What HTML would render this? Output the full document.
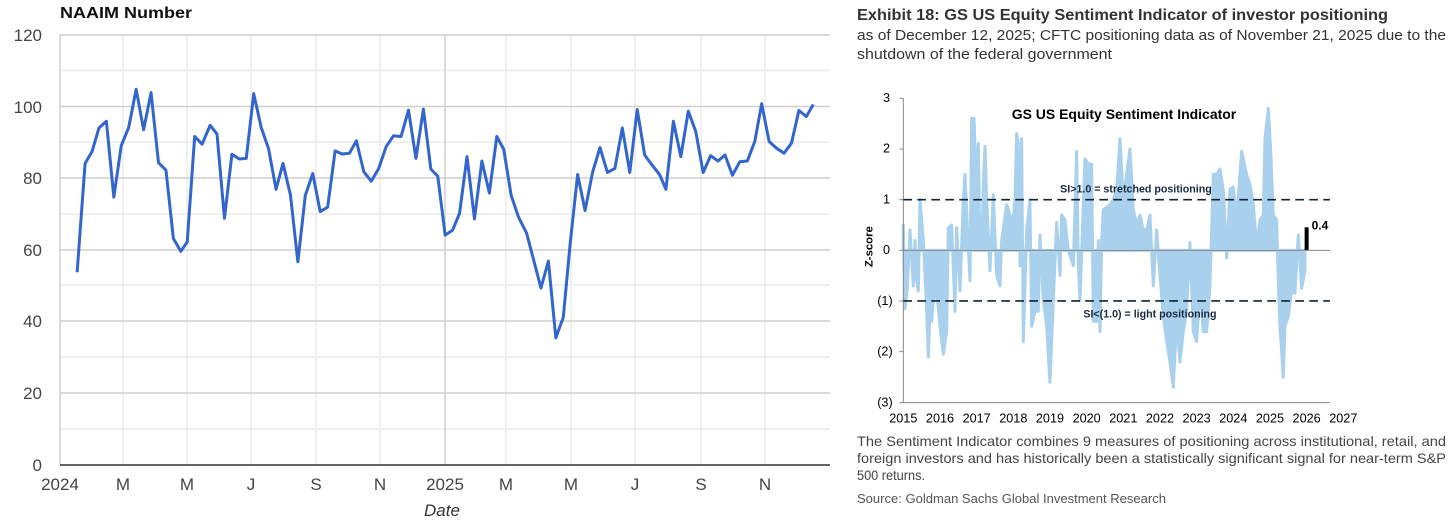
<!DOCTYPE html>
<html><head><meta charset="utf-8"><style>
html,body{margin:0;padding:0;background:#fff;}
svg{display:block;}
</style></head><body>
<svg width="1454" height="529" viewBox="0 0 1454 529" xmlns="http://www.w3.org/2000/svg" font-family="Liberation Sans, sans-serif">
<!-- LEFT CHART -->
<text x="60" y="18" font-size="16" font-weight="bold" fill="#111" textLength="132" lengthAdjust="spacingAndGlyphs">NAAIM Number</text>
<g stroke="#ececec" stroke-width="1.5">
<line x1="60" x2="830" y1="70.5" y2="70.5"/><line x1="60" x2="830" y1="142" y2="142"/><line x1="60" x2="830" y1="214" y2="214"/><line x1="60" x2="830" y1="285" y2="285"/><line x1="60" x2="830" y1="357" y2="357"/><line x1="60" x2="830" y1="429" y2="429"/>
<line x1="123" x2="123" y1="35" y2="465"/><line x1="187" x2="187" y1="35" y2="465"/><line x1="251" x2="251" y1="35" y2="465"/><line x1="316" x2="316" y1="35" y2="465"/><line x1="380" x2="380" y1="35" y2="465"/><line x1="506" x2="506" y1="35" y2="465"/><line x1="571" x2="571" y1="35" y2="465"/><line x1="635" x2="635" y1="35" y2="465"/><line x1="701" x2="701" y1="35" y2="465"/><line x1="765" x2="765" y1="35" y2="465"/>
</g>
<g stroke="#cfcfcf" stroke-width="1.5">
<line x1="60" x2="830" y1="35" y2="35"/><line x1="60" x2="830" y1="106.5" y2="106.5"/><line x1="60" x2="830" y1="178" y2="178"/><line x1="60" x2="830" y1="250" y2="250"/><line x1="60" x2="830" y1="321" y2="321"/><line x1="60" x2="830" y1="393" y2="393"/>
<line x1="60" x2="60" y1="35" y2="465"/><line x1="445" x2="445" y1="35" y2="465"/>
</g>
<line x1="60" x2="830" y1="465" y2="465" stroke="#333" stroke-width="1.5"/>
<g font-size="17" fill="#444" text-anchor="end">
<text x="42" y="41">120</text><text x="42" y="113">100</text><text x="42" y="184">80</text><text x="42" y="256">60</text><text x="42" y="327">40</text><text x="42" y="399">20</text><text x="42" y="471">0</text>
</g>
<g font-size="17" fill="#444" text-anchor="middle">
<text x="60" y="490">2024</text><text x="123" y="490">M</text><text x="187" y="490">M</text><text x="251" y="490">J</text><text x="316" y="490">S</text><text x="380" y="490">N</text><text x="445" y="490">2025</text><text x="506" y="490">M</text><text x="571" y="490">M</text><text x="635" y="490">J</text><text x="701" y="490">S</text><text x="765" y="490">N</text>
</g>
<text x="442" y="516" font-size="17" font-style="italic" fill="#333" text-anchor="middle">Date</text>
<g transform="scale(0.5319,0.3369)">
<polyline fill="none" stroke="#3366cc" stroke-width="3" vector-effect="non-scaling-stroke" stroke-linejoin="round" points="145,808 160,485 173,450 186,380 200,360 214,585 228,432 242,378 256,265 270,385 284,275 298,483 312,505 326,708 340,746 352,718 366,405 380,428 395,372 408,398 422,648 436,458 450,472 463,470 477,278 491,378 505,442 519,562 532,485 546,578 560,777 574,580 588,515 602,628 616,615 630,448 643,457 657,455 670,418 684,510 698,538 712,500 726,435 740,403 754,405 768,327 782,470 796,324 810,502 823,523 837,698 851,683 864,633 878,465 892,650 906,478 920,573 934,405 947,443 961,580 975,645 990,692 1003,770 1017,855 1031,775 1045,1003 1059,942 1072,722 1086,518 1100,625 1114,512 1128,438 1142,512 1156,500 1170,380 1184,512 1198,325 1212,460 1226,490 1240,518 1252,562 1266,360 1280,465 1294,330 1308,390 1322,512 1336,462 1350,478 1363,460 1377,520 1391,480 1405,478 1419,420 1432,308 1446,420 1460,440 1474,455 1488,425 1502,328 1516,346 1529,310"/>
</g>

<!-- RIGHT TEXT -->
<text x="857" y="20" font-size="16" font-weight="bold" fill="#333" textLength="531" lengthAdjust="spacingAndGlyphs">Exhibit 18: GS US Equity Sentiment Indicator of investor positioning</text>
<text x="857" y="40" font-size="15" fill="#333" textLength="589" lengthAdjust="spacingAndGlyphs">as of December 12, 2025; CFTC positioning data as of November 21, 2025 due to the</text>
<text x="857" y="59" font-size="15" fill="#333" textLength="255" lengthAdjust="spacingAndGlyphs">shutdown of the federal government</text>
<text x="857" y="446" font-size="14" fill="#444" textLength="589" lengthAdjust="spacingAndGlyphs">The Sentiment Indicator combines 9 measures of positioning across institutional, retail, and</text>
<text x="857" y="463" font-size="14" fill="#444" textLength="589" lengthAdjust="spacingAndGlyphs">foreign investors and has historically been a statistically significant signal for near-term S&amp;P</text>
<text x="857" y="480" font-size="14" fill="#444" textLength="68" lengthAdjust="spacingAndGlyphs">500 returns.</text>
<text x="857" y="503" font-size="12.5" fill="#555" textLength="309" lengthAdjust="spacingAndGlyphs">Source: Goldman Sachs Global Investment Research</text>

<!-- RIGHT CHART -->
<g transform="translate(850,80) scale(0.3333)">
<polygon fill="#a9d1ee" stroke="#a9d1ee" stroke-width="9" stroke-linejoin="round" points="160,511 160,435 165,686 172,625 180,450 190,618 195,481 200,602 205,633 210,359 220,481 225,587 230,694 235,831 240,694 245,724 250,663 260,633 270,739 280,823 290,755 295,443 305,435 315,694 320,443 330,633 340,359 345,283 352,435 360,602 365,115 372,115 380,344 385,191 390,511 395,511 400,313 405,199 410,359 420,572 430,344 440,587 450,618 455,481 470,374 480,405 490,420 495,359 500,161 505,191 510,557 515,176 520,785 530,450 540,359 545,739 555,694 565,694 570,465 580,663 590,739 600,907 610,663 620,427 630,587 635,405 645,420 655,511 670,557 680,214 685,557 690,663 700,374 705,237 715,252 725,252 730,724 740,724 745,481 750,755 755,481 760,389 770,382 780,374 790,359 800,328 810,176 820,359 840,207 850,389 860,435 870,405 880,450 890,450 900,405 910,618 920,450 930,587 940,709 950,785 960,846 970,922 980,724 990,846 1000,755 1010,694 1020,488 1030,755 1040,785 1050,618 1060,755 1070,755 1080,618 1090,283 1100,283 1110,267 1120,328 1130,534 1140,328 1150,321 1160,420 1175,214 1190,283 1200,313 1210,374 1220,496 1230,420 1240,405 1245,176 1255,85 1262,207 1270,405 1280,420 1285,602 1290,739 1300,892 1305,739 1315,709 1325,633 1335,640 1345,465 1355,625 1365,572 1365,511"/>
<rect x="1364" y="442" width="12" height="69" fill="#000"/>
<line x1="160" x2="1440" y1="511" y2="511" stroke="#888" stroke-width="3"/>
<g stroke="#888" stroke-width="3">
<line x1="160" x2="160" y1="55" y2="968"/>
<line x1="160" x2="1440" y1="968" y2="968"/>
<line x1="148" x2="160" y1="55" y2="55"/><line x1="148" x2="160" y1="207" y2="207"/><line x1="148" x2="160" y1="359" y2="359"/><line x1="148" x2="160" y1="511" y2="511"/><line x1="148" x2="160" y1="663" y2="663"/><line x1="148" x2="160" y1="815" y2="815"/><line x1="148" x2="160" y1="968" y2="968"/>
</g>
<g stroke="#123" stroke-width="5" stroke-dasharray="26,16">
<line x1="160" x2="1440" y1="359" y2="359"/><line x1="160" x2="1440" y1="663" y2="663"/>
</g>
<g font-size="38" fill="#000" text-anchor="end">
<text x="120" y="66">3</text><text x="120" y="218">2</text><text x="120" y="370">1</text><text x="120" y="522">0</text><text x="128" y="675">(1)</text><text x="128" y="827">(2)</text><text x="128" y="980">(3)</text>
</g>
<g font-size="38" fill="#000" text-anchor="middle">
<text x="160" y="1028">2015</text><text x="270" y="1028">2016</text><text x="380" y="1028">2017</text><text x="490" y="1028">2018</text><text x="600" y="1028">2019</text><text x="710" y="1028">2020</text><text x="820" y="1028">2021</text><text x="930" y="1028">2022</text><text x="1040" y="1028">2023</text><text x="1150" y="1028">2024</text><text x="1260" y="1028">2025</text><text x="1370" y="1028">2026</text><text x="1480" y="1028">2027</text>
</g>
<text x="68" y="500" font-size="34" font-weight="bold" fill="#000" text-anchor="middle" transform="rotate(-90 68 500)">Z-score</text>
<text x="822" y="117" font-size="42" font-weight="bold" fill="#000" text-anchor="middle">GS US Equity  Sentiment Indicator</text>
<text x="858" y="338" font-size="32" font-weight="bold" fill="#1a2a40" text-anchor="middle">SI&gt;1.0 = stretched positioning</text>
<text x="900" y="712" font-size="32" font-weight="bold" fill="#1a2a40" text-anchor="middle">SI&lt;(1.0) = light positioning</text>
<text x="1385" y="448" font-size="36" font-weight="bold" fill="#000">0.4</text>
</g>
</svg>
</body></html>
